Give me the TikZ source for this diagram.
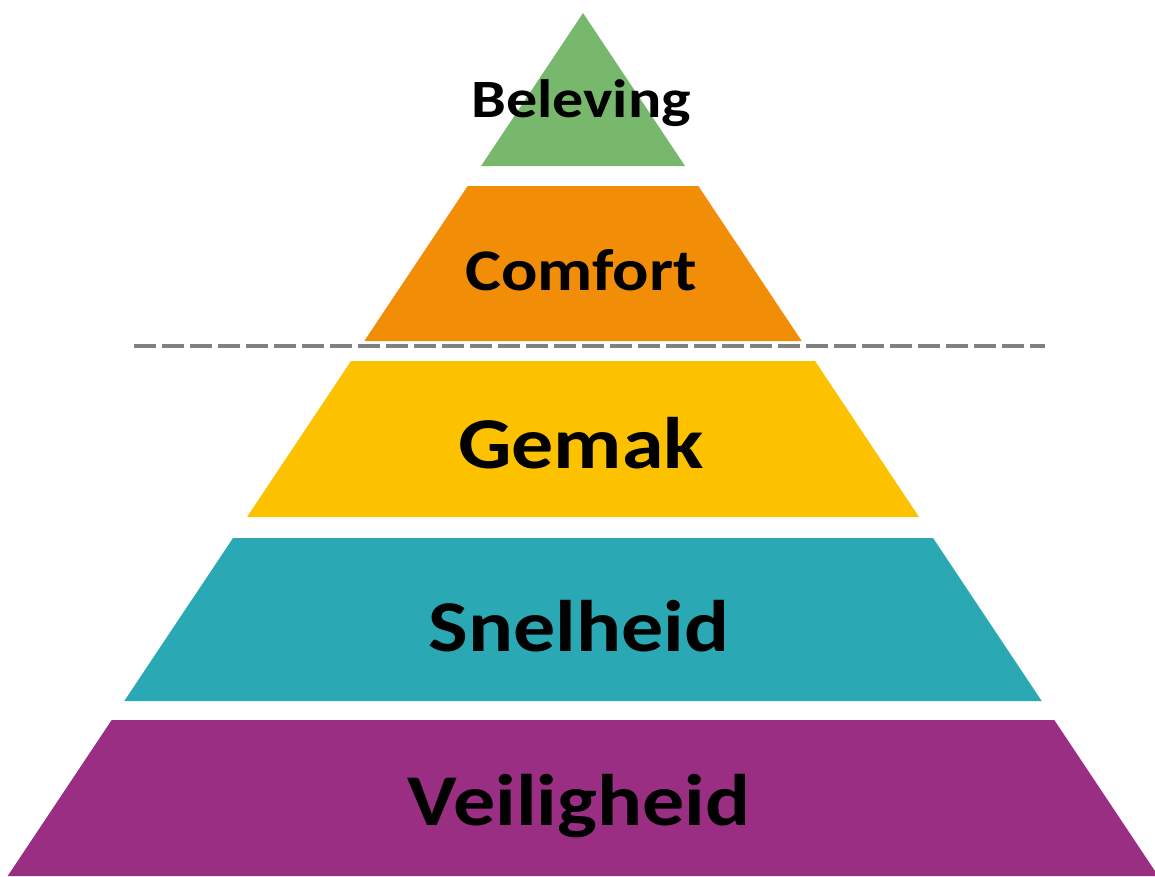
\documentclass[tikz,border=0pt]{standalone}
\usepackage{fontspec}
\setmainfont{Carlito}[FakeStretch=1.15]
\definecolor{cBel}{RGB}{120,184,108}
\definecolor{cCom}{RGB}{242,141,8}
\definecolor{cGem}{RGB}{252,194,0}
\definecolor{cSne}{RGB}{42,169,181}
\definecolor{cVei}{RGB}{154,46,131}
\definecolor{cDash}{RGB}{128,128,128}
\begin{document}
\begin{tikzpicture}[x=1pt,y=-1pt,
  lbl/.style={anchor=base,inner sep=0pt,text=black,font=\bfseries\fontsize{#1}{#1}\selectfont},
  sepline/.style={draw=cDash,line width=3.5pt,dash pattern=on 21.5pt off 6.5pt}]
\useasboundingbox (0,0) rectangle (1155,876);
% layers
\fill[cBel] (583,13) -- (685,166) -- (481,166) -- cycle;
\fill[cCom] (467.7,186) -- (698.3,186) -- (801.7,341) -- (364.3,341) -- cycle;
\fill[cGem] (351,361) -- (815,361) -- (919,517) -- (247,517) -- cycle;
\fill[cSne] (233,538) -- (933,538) -- (1041.7,701) -- (124.3,701) -- cycle;
\fill[cVei] (111.7,720) -- (1054.3,720) -- (1158.3,876) -- (7.7,876) -- cycle;
% separator
\coordinate (dl) at (134,346);
\coordinate (dr) at (1045,346);
\draw[sepline] (dl) -- (dr);
% labels
\node[lbl=54] (bel) at (581,117) {Beleving};
\node[lbl=59] (com) at (581,290) {Comfort};
\node[lbl=73] (gem) at (581,468) {Gemak};
\node[lbl=73] (sne) at (579,651) {Snelheid};
\node[lbl=73] (vei) at (579,825) {Veiligheid};
\end{tikzpicture}
\end{document}
